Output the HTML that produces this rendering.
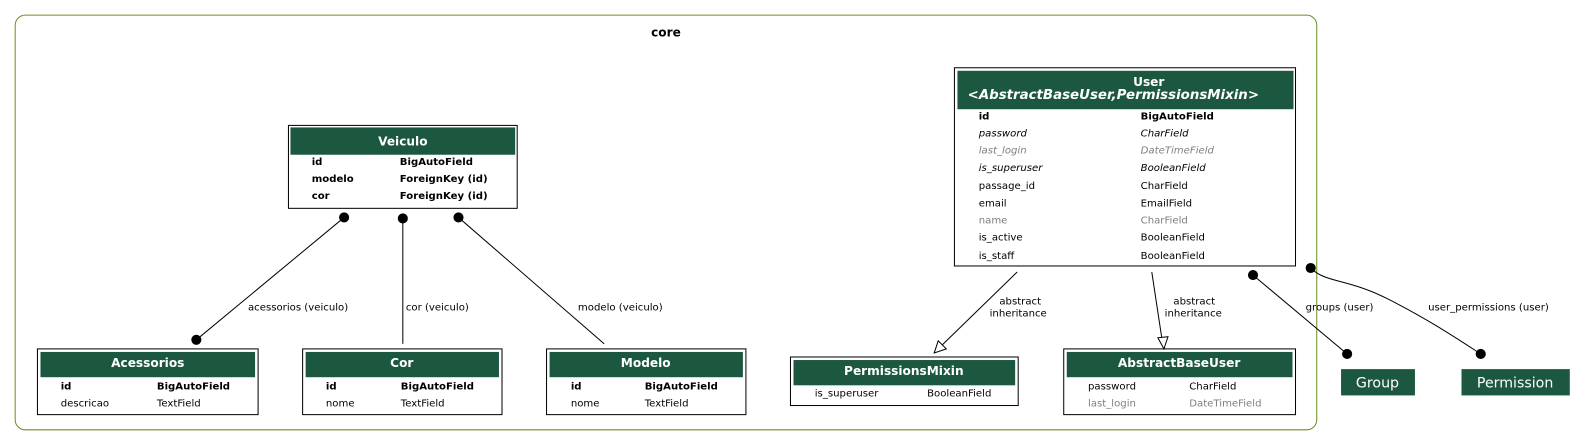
<!DOCTYPE html>
<html><head><meta charset="utf-8"><style>
html,body{margin:0;padding:0;background:#fff;width:1587px;height:447px;overflow:hidden}
svg{display:block}
text{font-family:"DejaVu Sans","Liberation Sans",sans-serif;font-size:10px;fill:#000}
.h{font-weight:bold;fill:#fff;font-size:12px}
.b{font-weight:bold}
.i{font-style:italic}
.g{fill:#7f7f7f}
.l{font-size:10px}
</style></head><body>
<svg width="1587" height="447" viewBox="0 0 1568 442" preserveAspectRatio="none" xmlns="http://www.w3.org/2000/svg">
<rect x="15" y="15" width="1286" height="410" rx="10" fill="none" stroke="#6b8e23" stroke-width="1"/>
<text x="658" y="36" text-anchor="middle" class="b" style="font-size:12px">core</text>

<!-- Veiculo -->
<rect x="285" y="124" width="226" height="82" fill="#fff" stroke="#000"/>
<rect x="287" y="126" width="222" height="27" fill="#1c5740"/>
<text x="398" y="144" text-anchor="middle" class="h">Veiculo</text>
<text x="308" y="163" class="b">id</text><text x="395" y="163" class="b">BigAutoField</text>
<text x="308" y="180" class="b">modelo</text><text x="395" y="180" class="b">ForeignKey (id)</text>
<text x="308" y="197" class="b">cor</text><text x="395" y="197" class="b">ForeignKey (id)</text>

<!-- User -->
<rect x="943" y="67" width="337" height="196" fill="#fff" stroke="#000"/>
<rect x="946" y="70" width="332" height="38" fill="#1c5740"/>
<text x="1135" y="85" text-anchor="middle" class="h">User</text>
<text x="1100" y="98" text-anchor="middle" class="h i" style="font-size:13.2px">&lt;AbstractBaseUser,PermissionsMixin&gt;</text>
<text x="967" y="118" class="b">id</text><text x="1127" y="118" class="b">BigAutoField</text>
<text x="967" y="135" class="i">password</text><text x="1127" y="135" class="i">CharField</text>
<text x="967" y="152" class="i g">last_login</text><text x="1127" y="152" class="i g">DateTimeField</text>
<text x="967" y="169" class="i">is_superuser</text><text x="1127" y="169" class="i">BooleanField</text>
<text x="967" y="187">passage_id</text><text x="1127" y="187">CharField</text>
<text x="967" y="204">email</text><text x="1127" y="204">EmailField</text>
<text x="967" y="221" class="g">name</text><text x="1127" y="221" class="g">CharField</text>
<text x="967" y="238">is_active</text><text x="1127" y="238">BooleanField</text>
<text x="967" y="256">is_staff</text><text x="1127" y="256">BooleanField</text>

<!-- Acessorios -->
<rect x="37" y="345" width="218" height="65" fill="#fff" stroke="#000"/>
<rect x="40" y="348" width="212" height="25" fill="#1c5740"/>
<text x="146" y="363" text-anchor="middle" class="h">Acessorios</text>
<text x="60" y="385" class="b">id</text><text x="155" y="385" class="b">BigAutoField</text>
<text x="60" y="402">descricao</text><text x="155" y="402">TextField</text>

<!-- Cor -->
<rect x="299" y="345" width="197" height="65" fill="#fff" stroke="#000"/>
<rect x="302" y="348" width="191" height="25" fill="#1c5740"/>
<text x="397" y="363" text-anchor="middle" class="h">Cor</text>
<text x="322" y="385" class="b">id</text><text x="396" y="385" class="b">BigAutoField</text>
<text x="322" y="402">nome</text><text x="396" y="402">TextField</text>

<!-- Modelo -->
<rect x="540" y="345" width="197" height="65" fill="#fff" stroke="#000"/>
<rect x="543" y="348" width="191" height="25" fill="#1c5740"/>
<text x="638" y="363" text-anchor="middle" class="h">Modelo</text>
<text x="564" y="385" class="b">id</text><text x="637" y="385" class="b">BigAutoField</text>
<text x="564" y="402">nome</text><text x="637" y="402">TextField</text>

<!-- PermissionsMixin -->
<rect x="781" y="353" width="225" height="48" fill="#fff" stroke="#000"/>
<rect x="784" y="356" width="219" height="25" fill="#1c5740"/>
<text x="893" y="371" text-anchor="middle" class="h">PermissionsMixin</text>
<text x="805" y="392">is_superuser</text><text x="916" y="392">BooleanField</text>

<!-- AbstractBaseUser -->
<rect x="1051" y="345" width="229" height="65" fill="#fff" stroke="#000"/>
<rect x="1054" y="348" width="223" height="25" fill="#1c5740"/>
<text x="1165" y="363" text-anchor="middle" class="h">AbstractBaseUser</text>
<text x="1075" y="385">password</text><text x="1175" y="385">CharField</text>
<text x="1075" y="402" class="g">last_login</text><text x="1175" y="402" class="g">DateTimeField</text>

<!-- Group / Permission -->
<rect x="1325" y="365" width="73" height="26" fill="#1c5740"/>
<text x="1361" y="383" text-anchor="middle" style="font-size:14px;fill:#fff">Group</text>
<rect x="1444" y="365" width="107" height="26" fill="#1c5740"/>
<text x="1497" y="383" text-anchor="middle" style="font-size:14px;fill:#fff">Permission</text>

<!-- edges -->
<g stroke="#000" fill="none">
<line x1="340" y1="215" x2="194" y2="336"/>
<line x1="398" y1="216" x2="398" y2="340"/>
<line x1="453" y1="215" x2="597" y2="340"/>
<line x1="1005" y1="269" x2="930" y2="342"/>
<line x1="1138" y1="269" x2="1148" y2="335"/>
<line x1="1238" y1="272" x2="1331" y2="350"/>
<path d="M1295,265 C1310,280 1330,275 1370,295 C1410,315 1440,335 1463,350"/>
</g>
<polygon points="923,349 927,337 935,345" fill="#fff" stroke="#000"/>
<polygon points="1150,345 1144,334 1154,333" fill="#fff" stroke="#000"/>
<g fill="#000">
<circle cx="340" cy="215" r="5"/><circle cx="194" cy="336" r="5"/>
<circle cx="398" cy="216" r="5"/>
<circle cx="453" cy="215" r="5"/>
<circle cx="1238" cy="272" r="5"/><circle cx="1331" cy="350" r="5"/>
<circle cx="1295" cy="265" r="5"/><circle cx="1463" cy="350" r="5"/>
</g>
<text x="245" y="307" class="l">acessorios (veiculo)</text>
<text x="401" y="307" class="l">cor (veiculo)</text>
<text x="571" y="307" class="l">modelo (veiculo)</text>
<text x="1008" y="301" text-anchor="middle" class="l">abstract</text>
<text x="1006" y="313" text-anchor="middle" class="l">inheritance</text>
<text x="1180" y="301" text-anchor="middle" class="l">abstract</text>
<text x="1179" y="313" text-anchor="middle" class="l">inheritance</text>
<text x="1290" y="307" class="l">groups (user)</text>
<text x="1411" y="307" class="l">user_permissions (user)</text>
</svg>
</body></html>
